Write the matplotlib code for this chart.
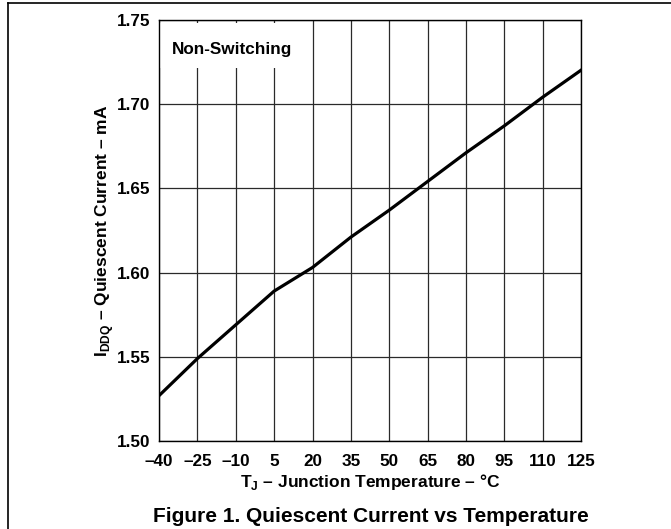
import matplotlib
matplotlib.use("Agg")
import matplotlib.pyplot as plt
from matplotlib.lines import Line2D
from matplotlib.patches import Rectangle

# junction temperature (°C) and quiescent current (mA)
temp = [-40, -25, -10, 5, 20, 35, 50, 65, 80, 95, 110, 125]
iddq = [1.527, 1.549, 1.569, 1.589, 1.603, 1.621, 1.637, 1.654, 1.671, 1.687, 1.704, 1.720]

xticks = [-40, -25, -10, 5, 20, 35, 50, 65, 80, 95, 110, 125]
xtick_labels = ['–40', '–25', '–10', '5', '20', '35', '50', '65', '80', '95', '110', '125']
yticks = [1.50, 1.55, 1.60, 1.65, 1.70, 1.75]
ytick_labels = ['1.50', '1.55', '1.60', '1.65', '1.70', '1.75']

plt.rcParams['font.family'] = ['Liberation Sans', 'DejaVu Sans']
plt.rcParams['font.weight'] = 'bold'
plt.rcParams['mathtext.fontset'] = 'custom'
plt.rcParams['mathtext.rm'] = 'Liberation Sans:bold'
plt.rcParams['mathtext.bf'] = 'Liberation Sans:bold'

fig = plt.figure(figsize=(6.71, 5.29), dpi=100)
ax = fig.add_axes([0.237, 0.166, 0.629, 0.797])

ax.plot(temp, iddq, color='black', lw=2.3, zorder=3)

ax.set_xlim(-40, 125)
ax.set_ylim(1.50, 1.75)
ax.set_xticks(xticks)
ax.set_xticklabels(xtick_labels)
ax.set_yticks(yticks)
ax.set_yticklabels(ytick_labels)
ax.tick_params(axis='both', length=0, labelsize=12.3)
ax.tick_params(axis='x', pad=9.5)
ax.tick_params(axis='y', pad=6)

ax.set_axisbelow(True)
ax.grid(True, color='#2a2a2a', lw=0.9)
for s in ax.spines.values():
    s.set_linewidth(1.0)

# white label box over the grid
ax.add_patch(Rectangle((0, 0.885), 0.31, 0.107, transform=ax.transAxes,
                       facecolor='white', edgecolor='none', zorder=1))
ax.text(0.031, 0.93, 'Non-Switching', transform=ax.transAxes,
        fontsize=12.3, fontweight='bold', va='center', ha='left', zorder=4)

ax.set_xlabel(r'T$_\mathbf{J}$ – Junction Temperature – °C', fontsize=12.5,
              fontweight='bold', labelpad=2)
ax.set_ylabel(r'I$_\mathbf{DDQ}$ – Quiescent Current – mA', fontsize=12.5,
              fontweight='bold', labelpad=1)

fig.text(0.553, 0.024, 'Figure 1. Quiescent Current vs Temperature',
         fontsize=15, fontweight='bold', ha='center', va='center')

# page frame (left and top edges)
fig.add_artist(Line2D([8 / 671, 8 / 671], [0, 1 - 3 / 529], color='black', lw=1.2))
fig.add_artist(Line2D([8 / 671, 1], [1 - 3 / 529, 1 - 3 / 529], color='black', lw=1.2))

fig.savefig('out.png', dpi=100)
